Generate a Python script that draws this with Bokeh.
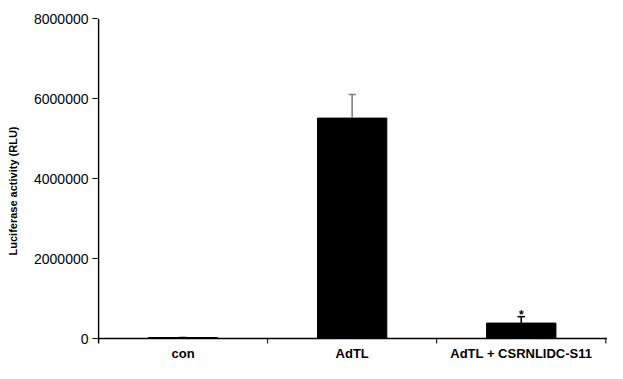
from bokeh.plotting import figure
from bokeh.models import ColumnDataSource, FixedTicker, Range1d, NumeralTickFormatter, Span
from bokeh.core.properties import value
from bokeh.embed import file_html
from bokeh.resources import INLINE

categories = ["con", "AdTL", "AdTL + CSRNLIDC-S11"]
means = [25000, 5510000, 385000]
err_upper = [25000, 6100000, 545000]
err_colors = ["#000000", "#808080", "#000000"]
y_ticks = [0, 2000000, 4000000, 6000000, 8000000]
star_labels = ["", "", "*"]

# layout (pixels)
H, W = 363, 607
TOP, AXIS_Y = 18, 338
YMAX = 8000000
per_px = YMAX / (AXIS_Y - TOP)
ymin = -(H - AXIS_Y) * per_px

xpos = [i + 0.5 for i in range(len(categories))]
bounds = list(range(1, len(categories) + 1))

p = figure(width=W, height=H, output_backend="svg", toolbar_location=None,
           x_range=Range1d(-0.006, 3.01), y_range=Range1d(ymin, YMAX),
           x_axis_location=None,
           min_border_left=97, min_border_right=0, min_border_top=TOP, min_border_bottom=0)
p.outline_line_color = None
p.xgrid.grid_line_color = None
p.ygrid.grid_line_color = None
p.background_fill_color = "white"
p.border_fill_color = "white"

src = ColumnDataSource(dict(x=xpos, top=means, up=err_upper, col=err_colors,
                            star=star_labels, cap0=[v - 0.022 for v in xpos],
                            cap1=[v + 0.022 for v in xpos], name=categories))

# axes lines
p.add_layout(Span(location=0, dimension="width", line_color="black", line_width=1.6))
p.segment(x0=[0], y0=[-5 * per_px], x1=[0], y1=[YMAX], line_color="black", line_width=1.6)
p.segment(x0=bounds, y0=[0] * len(bounds), x1=bounds, y1=[-5 * per_px] * len(bounds),
          line_color="black", line_width=1)

p.vbar(x="x", top="top", width=0.41, bottom=0, source=src,
       fill_color="black", line_color="black")
p.segment(x0="x", y0="top", x1="x", y1="up", line_color="col", line_width=1.6, source=src)
p.segment(x0="cap0", y0="up", x1="cap1", y1="up", line_color="col", line_width=1.6, source=src)

src.data["star_y"] = [u + 1.5 * per_px for u in err_upper]
p.text(x="x", y="star_y", text="star", source=src, text_align="center",
       text_baseline="alphabetic", text_font=value("Liberation Sans"),
       text_font_style="bold", text_font_size="12px", text_color="black")

# category labels
src.data["label_y"] = [-15 * per_px] * len(categories)
p.text(x="x", y="label_y", text="name", source=src, text_align="center",
       text_baseline="middle", text_font=value("Liberation Sans"),
       text_font_style="bold", text_font_size="13px", text_color="black")

# y axis
ya = p.yaxis[0]
ya.ticker = FixedTicker(ticks=y_ticks)
ya.formatter = NumeralTickFormatter(format="0")
ya.minor_tick_line_color = None
ya.major_tick_in = 0
ya.major_tick_out = 5
ya.major_tick_line_color = "black"
ya.major_tick_line_width = 1.2
ya.axis_line_color = None
ya.major_label_text_font = "Liberation Sans"
ya.major_label_text_font_size = "14px"
ya.major_label_text_color = "black"
ya.major_label_standoff = 4
ya.axis_label = "Luciferase activity (RLU)"
ya.axis_label_text_font = "Liberation Sans"
ya.axis_label_text_font_style = "bold"
ya.axis_label_text_font_size = "11px"
ya.axis_label_text_color = "black"
ya.axis_label_standoff = 12

open("out.html", "w").write(file_html(p, INLINE))
